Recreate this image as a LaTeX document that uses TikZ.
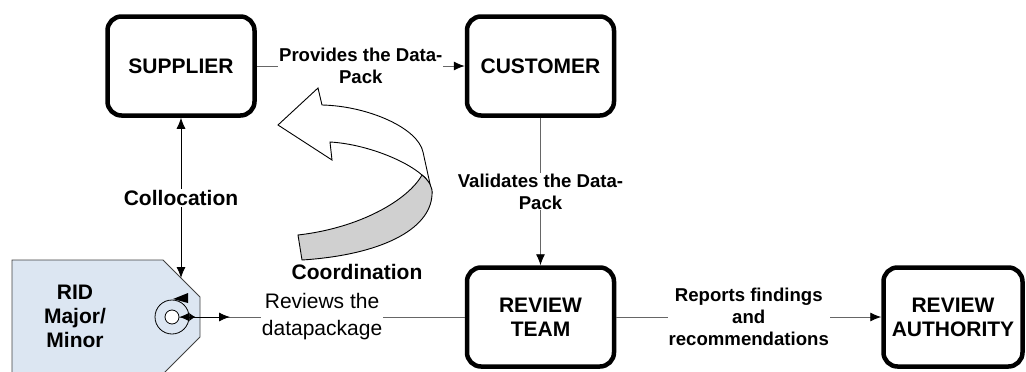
\documentclass[tikz,border=0pt]{standalone}
\usepackage{fontspec}
\setmainfont{Liberation Sans}
\usetikzlibrary{arrows.meta}
\definecolor{tagblue}{RGB}{220,230,242}
\definecolor{ribbongray}{RGB}{208,208,208}
\begin{document}
\begin{tikzpicture}[x=1pt,y=-1pt,
	party/.style={draw, line width=4.5pt, rounded corners=14pt, minimum width=147pt, minimum height=99pt, align=center, font=\bfseries\fontsize{21}{24}\selectfont},
	conn/.style={draw=black!60, line width=0.9pt},
	arrowed/.style={-{Latex[length=11pt,width=9pt,color=black]}},
	edgelabel/.style={fill=white, inner sep=1pt, align=center, font=\bfseries\fontsize{18.6}{22}\selectfont},
	biglabel/.style={fill=white, inner sep=1pt, align=center, font=\bfseries\fontsize{21}{24}\selectfont}]
	\useasboundingbox (0,0) rectangle (1026,372);
	\draw[fill=tagblue, draw=black!75, line width=0.8pt] (12,260) -- (163,260) -- (200,297) -- (200,337) -- (163,374) -- (12,374) -- cycle;
	\node[align=center, font=\bfseries\fontsize{21}{24}\selectfont] (rid) at (75,316) {RID\\Major/\\Minor};
	\node[draw, circle, fill=tagblue, line width=0.8pt, minimum size=34pt, inner sep=0pt] (ring) at (172,317) {};
	\node[draw, circle, fill=white, line width=0.8pt, minimum size=14pt, inner sep=0pt] (hole) at (ring) {};
	\fill (173,299) -- (188,293) -- (188,303) -- cycle;
	\coordinate (ridtop) at (181,278);
	\coordinate (rv) at (230,317);
	\node[party] (supplier) at (181,66) {SUPPLIER};
	\node[party] (customer) at (540.5,66) {CUSTOMER};
	\node[party] (team) at (540.5,317) {REVIEW\\TEAM};
	\node[party, minimum width=139pt] (authority) at (953,317) {REVIEW\\AUTHORITY};
	\draw[conn, arrowed] (supplier.east) -- node[edgelabel] {Provides the Data-\\Pack} (customer.west);
	\draw[conn, arrowed] (customer.south) -- node[edgelabel] {Validates the Data-\\Pack} (team.north);
	\draw[conn, arrowed] (team.east) -- node[edgelabel] {Reports findings\\and\\recommendations} (authority.west);
	\draw[conn] (team.west) -- node[fill=white, inner sep=1pt, align=center, font=\fontsize{21}{27}\selectfont] {Reviews the\\datapackage} (hole.east);
	\draw[line width=0.9pt, {Latex[length=10pt,width=9pt]Latex[length=6pt,width=8pt,reversed]}-{Latex[length=11pt,width=9pt]}] (hole.east) -- (rv);
	\draw[line width=0.8pt, {Latex[length=11pt,width=9pt]}-{Latex[length=11pt,width=9pt]}] (supplier.south) -- node[biglabel] {Collocation} (ridtop);
	\draw[fill=white, line width=0.9pt] (278,125) -- (318,88) -- (322,105) .. controls (368,106) and (418,128) .. (423,152) -- (432,193) .. controls (430,184) and (427,178) .. (422,175) .. controls (405,160) and (365,144) .. (330,142) -- (332,160) -- cycle;
	\draw[fill=ribbongray, line width=0.9pt] (422,175) .. controls (429,181) and (433,187) .. (432,195) .. controls (430,230) and (380,255) .. (302,260) -- (298,235) .. controls (360,228) and (408,200) .. (422,175) -- cycle;
	\node[font=\bfseries\fontsize{21}{24}\selectfont] (coord) at (357,272) {Coordination};
\end{tikzpicture}
\end{document}
